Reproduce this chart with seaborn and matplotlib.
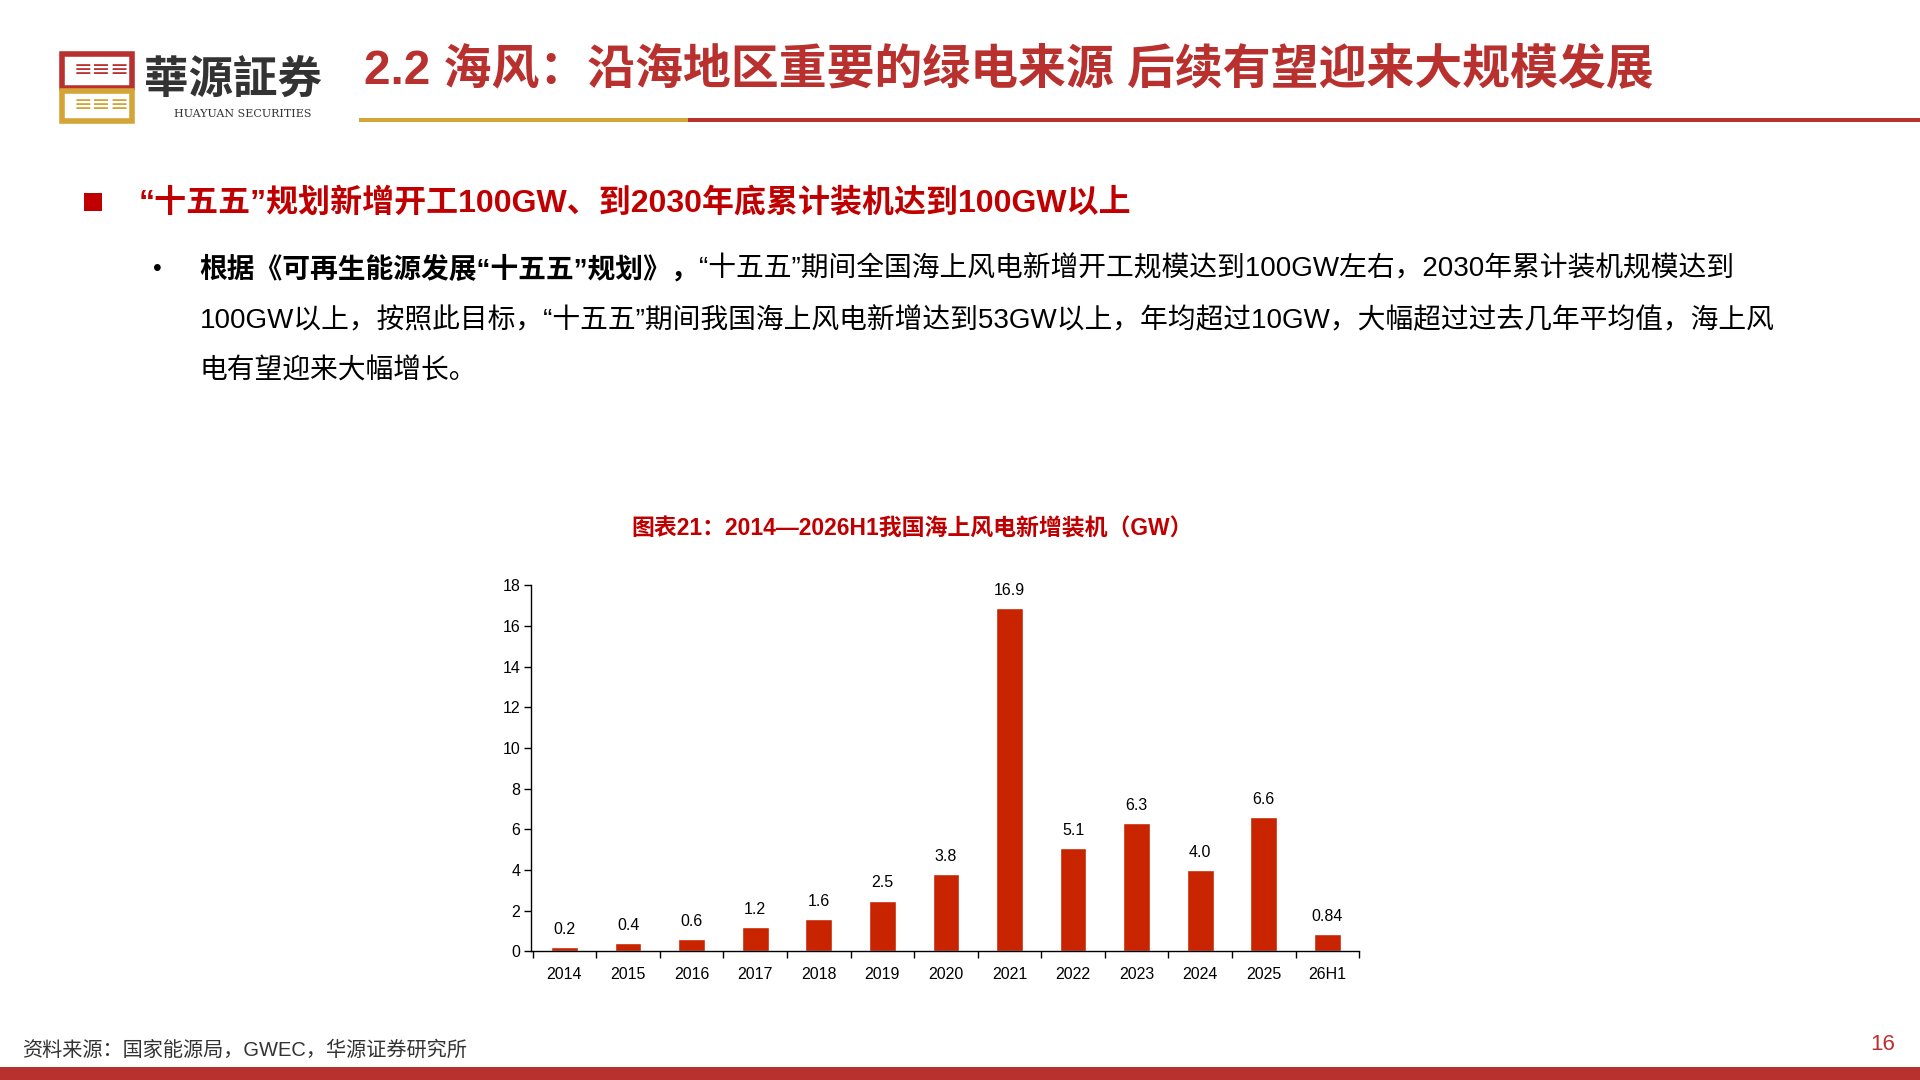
import matplotlib
matplotlib.use("Agg")
import matplotlib.pyplot as plt
import seaborn as sns
import pandas as pd
from matplotlib.patches import Rectangle

categories = ["2014","2015","2016","2017","2018","2019","2020","2021","2022","2023","2024","2025","26H1"]
values = [0.2,0.4,0.6,1.2,1.6,2.5,3.8,16.9,5.1,6.3,4.0,6.6,0.84]
labels = ["0.2","0.4","0.6","1.2","1.6","2.5","3.8","16.9","5.1","6.3","4.0","6.6","0.84"]
yticks = [0,2,4,6,8,10,12,14,16,18]

sns.set_theme(style="white")
plt.rcParams['font.family'] = ['Liberation Sans', 'Noto Sans CJK SC', 'DejaVu Sans']
RED = "#C00000"
BAR = "#C82400"
W, H = 1568, 882
def fx(x): return x / W
def fy(y): return 1 - y / H

fig = plt.figure(figsize=(19.2, 10.8), dpi=100)

# logo
fig.patches.append(Rectangle((fx(51), fy(72)), fx(57), fy(44) - fy(72), transform=fig.transFigure,
                             facecolor="none", edgecolor="#B8312F", lw=4))
fig.patches.append(Rectangle((fx(51), fy(99)), fx(57), fy(74) - fy(99), transform=fig.transFigure,
                             facecolor="none", edgecolor="#D4A437", lw=4))
fig.text(fx(60), fy(57), "≡≡≡", color="#B8312F", fontsize=16, va="center", family=['DejaVu Sans'])
fig.text(fx(60), fy(86), "≡≡≡", color="#D4A437", fontsize=16, va="center", family=['DejaVu Sans'])
fig.text(fx(118), fy(66), "華源証券", fontsize=32, fontweight="bold", color="#333333", va="center",
         family=['Noto Sans CJK TC', 'Noto Sans CJK SC'])
fig.text(fx(198), fy(93), "HUAYUAN SECURITIES", fontsize=8, color="#333333", va="center", ha="center",
         family=['DejaVu Serif'])
fig.text(fx(297), fy(57), "2.2 海风：沿海地区重要的绿电来源 后续有望迎来大规模发展", fontsize=34.5,
         fontweight="bold", color="#B8312F", va="center")
fig.patches.append(Rectangle((fx(293), fy(100)), fx(562 - 293), fy(96) - fy(100), transform=fig.transFigure,
                             facecolor="#D4A437", lw=0))
fig.patches.append(Rectangle((fx(562), fy(100)), fx(W - 562), fy(96) - fy(100), transform=fig.transFigure,
                             facecolor="#B8312F", lw=0))

# section header
fig.patches.append(Rectangle((fx(69), fy(172)), fx(14), fy(158) - fy(172), transform=fig.transFigure,
                             facecolor=RED, lw=0))
fig.text(fx(113), fy(166), "“十五五”规划新增开工100GW、到2030年底累计装机达到100GW以上", fontsize=23,
         fontweight="bold", color=RED, va="center")

# body
fig.text(fx(125), fy(220), "•", fontsize=18, va="center", color="black")
fig.canvas.draw()
r = fig.canvas.get_renderer()
t1 = fig.text(fx(163), fy(220), "根据《可再生能源发展“十五五”规划》，", fontsize=20, fontweight="bold",
              va="center", color="black")
bb = t1.get_window_extent(renderer=r)
fig.text(bb.x1 / fig.bbox.width, fy(220),
         "“十五五”期间全国海上风电新增开工规模达到100GW左右，2030年累计装机规模达到",
         fontsize=20, va="center", color="black")
fig.text(fx(163), fy(262),
         "100GW以上，按照此目标，“十五五”期间我国海上风电新增达到53GW以上，年均超过10GW，大幅超过过去几年平均值，海上风",
         fontsize=20, va="center", color="black")
fig.text(fx(163), fy(303), "电有望迎来大幅增长。", fontsize=20, va="center", color="black")

# chart title
fig.text(fx(745), fy(432), "图表21：2014—2026H1我国海上风电新增装机（GW）", fontsize=16.5, fontweight="bold",
         color=RED, va="center", ha="center")

# chart
ax = fig.add_axes([fx(434), fy(777), fx(1110 - 434), fy(478) - fy(777)])
df = pd.DataFrame({"cat": categories, "val": values})
sns.barplot(data=df, x="cat", y="val", color=BAR, saturation=1, width=0.42, ax=ax)
ax.set_xlim(-0.52, 12.5)
ax.set_ylim(0, 18)
ax.set_yticks(yticks)
ax.set_xlabel("")
ax.set_ylabel("")
for i, (v, l) in enumerate(zip(values, labels)):
    ax.text(i, v + 0.5, l, ha="center", va="bottom", fontsize=11.5, color="black")
for s in ["top", "right"]:
    ax.spines[s].set_visible(False)
for s in ["left", "bottom"]:
    ax.spines[s].set_color("black")
    ax.spines[s].set_linewidth(1)
ax.tick_params(axis="y", left=True, length=5, width=1, labelsize=11.5, pad=3, colors="black")
ax.set_xticks([i + 0.5 for i in range(-1, 13)], minor=True)
ax.tick_params(axis="x", which="major", length=0, labelsize=11.5, pad=11, colors="black")
ax.tick_params(axis="x", which="minor", bottom=True, length=5, width=1, direction="out", colors="black")

# footer
fig.text(fx(18), fy(858), "资料来源：国家能源局，GWEC，华源证券研究所", fontsize=14.5, va="center", color="#333333")
fig.text(fx(1548), fy(853), "16", fontsize=16, va="center", ha="right", color="#B8312F")
fig.patches.append(Rectangle((0, 0), 1, fy(871), transform=fig.transFigure, facecolor="#B8312F", lw=0))

fig.savefig("out.png", dpi=100)
